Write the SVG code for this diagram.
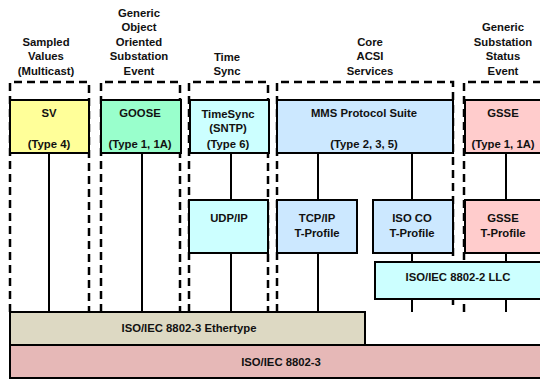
<svg xmlns="http://www.w3.org/2000/svg" width="540" height="379" viewBox="0 0 540 379">
  <style>
    text { font-family: "Liberation Sans", Arial, sans-serif; font-weight: bold; font-size: 11.3px; fill: #111; text-anchor: middle; }
    .box { stroke: #000; stroke-width: 2; }
    .frame { fill: none; stroke: #000; stroke-width: 2.5; stroke-dasharray: 8 5; }
    .wire { stroke: #000; stroke-width: 2; fill: none; }
    .yellow { fill: #FFFF99; }
    .mint { fill: #99FFCC; }
    .cyan { fill: #CCFFFF; }
    .blue { fill: #CCE8FF; }
    .pink { fill: #FFCCCC; }
    .tan { fill: #DDD9C3; }
    .rose { fill: #E6B8B7; }
  </style>
  <rect width="540" height="379" fill="#fff"/>

  <!-- service group headers -->
  <g id="headers">
    <text x="46" y="46">Sampled</text>
    <text x="46" y="60">Values</text>
    <text x="46" y="75">(Multicast)</text>
    <text x="139" y="17">Generic</text>
    <text x="139" y="31">Object</text>
    <text x="139" y="46">Oriented</text>
    <text x="139" y="60">Substation</text>
    <text x="139" y="75">Event</text>
    <text x="227" y="61">Time</text>
    <text x="227" y="75">Sync</text>
    <text x="370" y="46">Core</text>
    <text x="370" y="60">ACSI</text>
    <text x="370" y="75">Services</text>
    <text x="503" y="31">Generic</text>
    <text x="503" y="46">Substation</text>
    <text x="503" y="60">Status</text>
    <text x="503" y="75">Event</text>
  </g>

  <!-- dashed service group frames -->
  <g id="frames">
    <path class="frame" d="M10,312 V82 H89 V312"/>
    <path class="frame" d="M101,312 V82 H180 V312"/>
    <path class="frame" d="M189,312 V82 H268 V312"/>
    <path class="frame" d="M277,312 V82 H453 V305"/>
    <path class="frame" d="M464,312 V82 H545"/>
  </g>

  <!-- connectors -->
  <g id="connectors">
    <line class="wire" x1="49" y1="153" x2="49" y2="312"/>
    <line class="wire" x1="142" y1="153" x2="142" y2="312"/>
    <line class="wire" x1="231" y1="153" x2="231" y2="312"/>
    <line class="wire" x1="318" y1="153" x2="318" y2="312"/>
    <line class="wire" x1="412" y1="153" x2="412" y2="312"/>
    <line class="wire" x1="506" y1="153" x2="506" y2="312"/>
  </g>

  <g id="sv">
    <rect class="box yellow" x="10" y="100" width="79" height="53"/>
    <text x="49" y="117">SV</text>
    <text x="49" y="148">(Type 4)</text>
  </g>
  <g id="goose">
    <rect class="box mint" x="101" y="100" width="80" height="53"/>
    <text x="140" y="117">GOOSE</text>
    <text x="140" y="148">(Type 1, 1A)</text>
  </g>
  <g id="timesync">
    <rect class="box cyan" x="190" y="100" width="79" height="53"/>
    <text x="228" y="118">TimeSync</text>
    <text x="228" y="132">(SNTP)</text>
    <text x="228" y="148">(Type 6)</text>
  </g>
  <g id="mms">
    <rect class="box blue" x="277" y="100" width="176" height="53"/>
    <text x="364" y="117">MMS Protocol Suite</text>
    <text x="364" y="148">(Type 2, 3, 5)</text>
  </g>
  <g id="gsse">
    <rect class="box pink" x="465" y="100" width="80" height="53"/>
    <text x="503" y="117">GSSE</text>
    <text x="503" y="148">(Type 1, 1A)</text>
  </g>

  <g id="udp-ip">
    <rect class="box cyan" x="189" y="200" width="79" height="53"/>
    <text x="229" y="222">UDP/IP</text>
  </g>
  <g id="tcp-ip">
    <rect class="box blue" x="277" y="200" width="80" height="53"/>
    <text x="317" y="222">TCP/IP</text>
    <text x="317" y="237">T-Profile</text>
  </g>
  <g id="iso-co">
    <rect class="box blue" x="373" y="200" width="80" height="53"/>
    <text x="412" y="222">ISO CO</text>
    <text x="412" y="237">T-Profile</text>
  </g>
  <g id="gsse-tprofile">
    <rect class="box pink" x="465" y="200" width="80" height="53"/>
    <text x="503" y="222">GSSE</text>
    <text x="503" y="237">T-Profile</text>
  </g>

  <g id="llc">
    <rect class="box cyan" x="375" y="262" width="170" height="37"/>
    <text x="458" y="281">ISO/IEC 8802-2 LLC</text>
  </g>

  <g id="ethernet">
    <rect class="box rose" x="10" y="345" width="540" height="33"/>
    <text x="281" y="366">ISO/IEC 8802-3</text>
  </g>
  <g id="ethertype">
    <rect class="box tan" x="10" y="312" width="355" height="33"/>
    <text x="189" y="332">ISO/IEC 8802-3 Ethertype</text>
  </g>
</svg>
